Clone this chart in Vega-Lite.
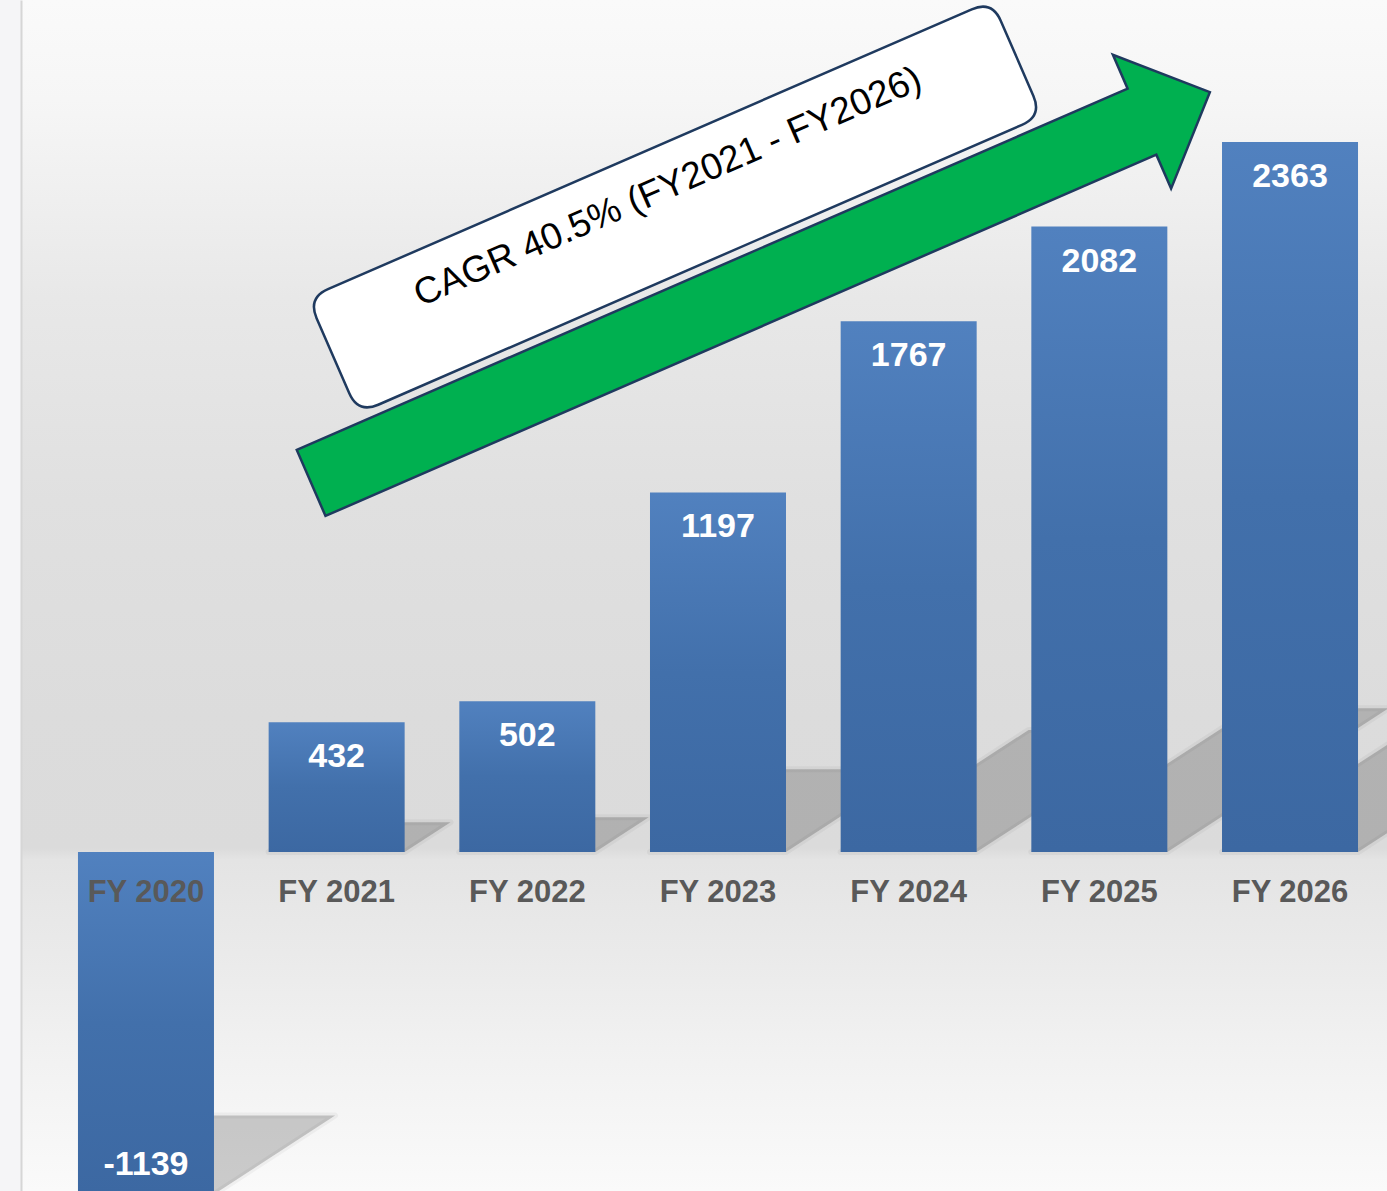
{
  "$schema": "https://vega.github.io/schema/vega-lite/v6.json",
  "width": 1366,
  "height": 1191,
  "autosize": {"type": "none"},
  "padding": {"left": 21, "top": 0, "right": 0, "bottom": 0},
  "background": "#F5F5F7",
  "view": {
    "stroke": null,
    "fill": {
      "gradient": "linear", "x1": 0, "y1": 0, "x2": 0, "y2": 1,
      "stops": [
        {"offset": 0, "color": "#FAFAFA"},
        {"offset": 0.084, "color": "#F6F6F6"},
        {"offset": 0.168, "color": "#EFEFEF"},
        {"offset": 0.25, "color": "#E8E8E8"},
        {"offset": 0.42, "color": "#E0E0E0"},
        {"offset": 0.6, "color": "#DCDCDC"},
        {"offset": 0.712, "color": "#DBDBDB"},
        {"offset": 0.722, "color": "#E4E4E4"},
        {"offset": 0.8, "color": "#EAEAEA"},
        {"offset": 0.88, "color": "#F1F1F1"},
        {"offset": 1, "color": "#FAFAFA"}
      ]
    }
  },
  "datasets": {
    "ebitda": [
      {"cat": "FY 2020", "v": -1139},
      {"cat": "FY 2021", "v": 432},
      {"cat": "FY 2022", "v": 502},
      {"cat": "FY 2023", "v": 1197},
      {"cat": "FY 2024", "v": 1767},
      {"cat": "FY 2025", "v": 2082},
      {"cat": "FY 2026", "v": 2363}
    ],
    "note": [{"label": "CAGR 40.5% (FY2021 - FY2026)"}]
  },
  "data": {"name": "ebitda"},
  "encoding": {
    "x": {
      "field": "cat", "type": "nominal", "sort": null, "axis": null,
      "scale": {"paddingInner": 0.2867, "paddingOuter": 0.2254, "align": 0.6628}
    }
  },
  "layer": [
    {
      "mark": {"type": "point", "filled": true, "fill": "#000000", "fillOpacity": 0.19, "opacity": 1, "stroke": "#000000", "strokeOpacity": 0.04, "strokeWidth": 6, "strokeJoin": "round", "size": 4},
      "encoding": {
        "y": {"field": "v", "type": "quantitative"},
        "shape": {
          "field": "cat", "type": "nominal", "legend": null,
          "scale": {
            "domain": ["FY 2020", "FY 2021", "FY 2022", "FY 2023", "FY 2024", "FY 2025", "FY 2026"],
            "range": [
              "M -68 0 L 68 0 L 189.1 -78.7 L 53.1 -78.7 Z",
              "M -68 129.8 L 68 129.8 L 113.9 99.9 L -22.1 99.9 Z",
              "M -68 150.8 L 68 150.8 L 121.4 116.1 L -14.6 116.1 Z",
              "M -68 359.6 L 68 359.6 L 195.3 276.9 L 59.3 276.9 Z",
              "M -68 530.9 L 68 530.9 L 255.9 408.8 L 119.9 408.8 Z",
              "M -68 625.5 L 68 625.5 L 289.4 481.6 L 153.4 481.6 Z",
              "M -68 710 L 68 710 L 319.3 546.7 L 183.3 546.7 Z"
            ]
          }
        }
      }
    },
    {
      "mark": {
        "type": "bar",
        "color": {
          "gradient": "linear", "x1": 0, "y1": 0, "x2": 0, "y2": 1,
          "stops": [
            {"offset": 0, "color": "#5181BF"},
            {"offset": 0.5, "color": "#4270AB"},
            {"offset": 1, "color": "#3C68A2"}
          ]
        }
      },
      "encoding": {
        "y": {
          "field": "v", "type": "quantitative",
          "scale": {"domain": [-1128, 2836], "nice": false, "zero": false},
          "axis": {"title": null, "labels": false, "ticks": false, "grid": false, "domain": true, "domainColor": "#D6D6D6", "domainWidth": 2}
        }
      }
    },
    {
      "transform": [{"filter": "datum.v >= 0"}],
      "mark": {"type": "text", "font": "Liberation Sans", "fontWeight": "bold", "fontSize": 34, "color": "#FFFFFF", "baseline": "alphabetic", "align": "center", "dy": 45},
      "encoding": {
        "y": {"field": "v", "type": "quantitative"},
        "text": {"field": "v", "type": "nominal"}
      }
    },
    {
      "transform": [{"filter": "datum.v < 0"}],
      "mark": {"type": "text", "font": "Liberation Sans", "fontWeight": "bold", "fontSize": 34, "color": "#FFFFFF", "baseline": "alphabetic", "align": "center", "dy": -19},
      "encoding": {
        "y": {"field": "v", "type": "quantitative"},
        "text": {"field": "v", "type": "nominal"}
      }
    },
    {
      "mark": {"type": "text", "font": "Liberation Sans", "fontWeight": "bold", "fontSize": 31, "color": "#595959", "baseline": "alphabetic", "align": "center", "dy": 50},
      "encoding": {
        "y": {"datum": 0, "type": "quantitative"},
        "text": {"field": "cat", "type": "nominal"}
      }
    },
    {
      "data": {"name": "note"},
      "mark": {
        "type": "point", "filled": true, "fill": "#00B050", "stroke": "#1F3A5F", "strokeWidth": 2.5, "opacity": 1, "size": 4, "angle": 336.5, "xOffset": 42.5,
        "shape": "M -490 -36 L 416 -36 L 416 -73 L 490 0 L 416 73 L 416 36 L -490 36 Z"
      },
      "encoding": {
        "x": {"datum": "FY 2023"},
        "y": {"datum": 1879, "type": "quantitative"}
      }
    },
    {
      "data": {"name": "note"},
      "mark": {
        "type": "point", "filled": true, "fill": "#FFFFFF", "stroke": "#1F3A5F", "strokeWidth": 2.5, "opacity": 1, "size": 4, "angle": 336.5, "xOffset": -43,
        "shape": "M -351 -63 L 351 -63 Q 373 -63 373 -41 L 373 41 Q 373 63 351 63 L -351 63 Q -373 63 -373 41 L -373 -41 Q -373 -63 -351 -63 Z"
      },
      "encoding": {
        "x": {"datum": "FY 2023"},
        "y": {"datum": 2147, "type": "quantitative"}
      }
    },
    {
      "data": {"name": "note"},
      "mark": {"type": "text", "font": "Liberation Sans", "fontSize": 37, "color": "#000000", "align": "center", "baseline": "middle", "angle": 336.5, "xOffset": -50},
      "encoding": {
        "x": {"datum": "FY 2023"},
        "y": {"datum": 2213, "type": "quantitative"},
        "text": {"field": "label", "type": "nominal"}
      }
    }
  ]
}
